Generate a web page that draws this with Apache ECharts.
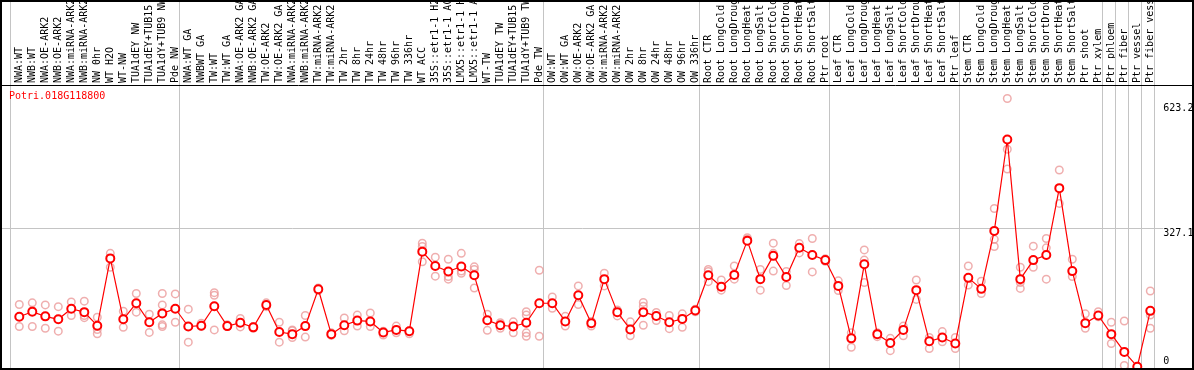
<!DOCTYPE html>
<html>
<head>
<meta charset="utf-8">
<script src="https://cdn.jsdelivr.net/npm/echarts@6/dist/echarts.min.js"></script>
<style>
  html, body { margin: 0; padding: 0; background: #fff; }
  #chart { width: 1194px; height: 370px; }
</style>
</head>
<body>
<div id="chart"></div>
<script>
// sample names, in plot order
const samples = [
  "NWA:WT", "NWB:WT", "NWA:OE-ARK2", "NWB:OE-ARK2", "NWA:miRNA-ARK2", "NWB:miRNA-ARK2",
  "NW 0hr", "WT H2O", "WT-NW", "TUA1dEY NW", "TUA1dEY+TUB15 NW", "TUA1dY+TUB9 NW", "Pde NW",
  "NWA:WT GA", "NWBWT GA", "TW:WT", "TW:WT GA", "NWA:OE-ARK2 GA", "NWB:OE-ARK2 GA",
  "TW:OE-ARK2", "TW:OE-ARK2 GA", "NWA:miRNA-ARK2", "NWB:miRNA-ARK2", "TW:miRNA-ARK2",
  "TW:miRNA-ARK2", "TW 2hr", "TW 8hr", "TW 24hr", "TW 48hr", "TW 96hr", "TW 336hr", "WT ACC",
  "35S::etr1-1 H2O", "35S::etr1-1 ACC", "LMX5::etr1-1 H2O", "LMX5::etr1-1 ACC", "WT-TW",
  "TUA1dEY TW", "TUA1dEY+TUB15 TW", "TUA1dY+TUB9 TW", "Pde TW",
  "OW:WT", "OW:WT GA", "OW:OE-ARK2", "OW:OE-ARK2 GA", "OW:miRNA-ARK2", "OW:miRNA-ARK2",
  "OW 2hr", "OW 8hr", "OW 24hr", "OW 48hr", "OW 96hr", "OW 336hr",
  "Root CTR", "Root LongCold", "Root LongDrought", "Root LongHeat", "Root LongSalt",
  "Root ShortCold", "Root ShortDrought", "Root ShortHeat", "Root ShortSalt", "Ptr root",
  "Leaf CTR", "Leaf LongCold", "Leaf LongDrought", "Leaf LongHeat", "Leaf LongSalt",
  "Leaf ShortCold", "Leaf ShortDrought", "Leaf ShortHeat", "Leaf ShortSalt", "Ptr leaf",
  "Stem CTR", "Stem LongCold", "Stem LongDrought", "Stem LongHeat", "Stem LongSalt",
  "Stem ShortCold", "Stem ShortDrought", "Stem ShortHeat", "Stem ShortSalt", "Ptr shoot",
  "Ptr xylem", "Ptr phloem", "Ptr fiber", "Ptr vessel", "Ptr fiber vessel"
];

// how many samples sit in each experiment block
const groupSizes = [13, 28, 12, 10, 10, 11, 1, 1, 1, 1];

// mean expression per sample
const means = [
  118, 130, 119, 112, 137, 129, 97, 256, 112, 150, 105, 126, 137,
  95, 97, 143, 96, 104, 93, 146, 82, 77, 96, 183, 77, 98, 109, 107, 81, 87, 84,
  272, 238, 225, 237, 216, 110, 98, 95, 104, 150,
  150, 107, 169, 103, 207, 129, 88, 129, 120, 105, 113, 133,
  216, 189, 217, 298, 207, 262, 212, 281, 264, 252,
  191, 67, 242, 77, 56, 87, 181, 60, 69, 55,
  210, 184, 321, 537, 207, 252, 264, 422, 226, 103, 121,
  77, 35, 0, 132
];

// single replicate values per sample
const replicates = [
  [147, 95], [151, 95, 133], [146, 91], [142, 84], [153, 121], [155, 116, 121],
  [117, 88, 78], [268, 235], [131, 93], [173, 129], [124, 81], [173, 146, 99, 95], [172, 105],
  [136, 58], [103, 95], [175, 169, 87], [99, 95], [114, 94], [95, 91], [151, 142], [105, 58],
  [87, 69, 85], [121, 70], [186, 180], [80, 74], [115, 85], [122, 96], [127, 95], [84, 75],
  [96, 80], [85, 78], [292, 284, 248], [259, 214], [254, 213, 207], [268, 226, 221],
  [236, 230, 186], [124, 86], [104, 91], [106, 80], [130, 122, 80, 72], [228, 72],
  [165, 138], [119, 96], [191, 147], [107, 96], [221, 191], [134, 120], [106, 73],
  [152, 143, 98], [128, 109], [121, 90], [125, 93], [136, 130],
  [230, 225, 201], [205, 181], [238, 207], [305, 301], [230, 181], [292, 268, 226],
  [225, 192], [291, 269], [303, 224], [255, 249],
  [203, 180], [80, 46], [276, 252, 199], [80, 71], [67, 38], [96, 73], [205, 159],
  [69, 43], [83, 59], [69, 43],
  [238, 193], [202, 173], [374, 301, 284], [634, 514, 467], [235, 199, 185], [285, 235],
  [303, 281, 207], [465, 386], [254, 213], [125, 91], [130, 118],
  [105, 55], [108, 3], [0, 1], [179, 122, 91]
];

const yTicks = [0, 327.1, 623.2];
const geneId = "Potri.018G118800";

const FONT = "'DejaVu Sans Mono', monospace";
const sepShift = 0.662; // block separators sit left of the first sample

const bounds = [0];
groupSizes.forEach((n) => bounds.push(bounds[bounds.length - 1] + n));

const repPoints = [];
replicates.forEach((vals, i) => vals.forEach((v) => repPoints.push([i, v])));

const chart = echarts.init(document.getElementById("chart"));

const yBase = {
  type: "value",
  position: "right",
  min: -5.4,
  max: 866.7,
  axisLine: { show: false },
  axisTick: { show: false },
  splitLine: { show: false },
};

const option = {
  animation: false,
  title: {
    text: geneId,
    left: 9,
    top: 91,
    padding: 0,
    textStyle: { color: "#ff0000", fontSize: 10, fontWeight: "normal", fontFamily: FONT },
  },
  grid: { left: 2, right: 30.7, top: 0, bottom: 1, containLabel: false, outerBoundsMode: "none" },
  xAxis: {
    type: "value",
    position: "top",
    offset: -85,
    min: -1.33,
    max: 88,
    axisLine: { show: false },
    axisTick: { show: false },
    splitLine: { show: false },
    axisLabel: {
      customValues: samples.map((_, i) => i),
      formatter: (v) => samples[v] || "",
      rotate: 90,
      margin: 2,
      fontSize: 10,
      color: "#000",
      fontFamily: FONT,
    },
  },
  yAxis: [
    Object.assign({}, yBase, {
      axisLabel: {
        customValues: yTicks.slice(1),
        verticalAlign: "top",
        margin: 0,
        fontSize: 10,
        color: "#000",
        fontFamily: FONT,
      },
    }),
    Object.assign({}, yBase, {
      axisLabel: {
        customValues: yTicks.slice(0, 1),
        verticalAlign: "bottom",
        margin: 0,
        fontSize: 10,
        color: "#000",
        fontFamily: FONT,
      },
    }),
  ],
  series: [
    {
      type: "scatter",
      data: repPoints,
      symbol: "circle",
      symbolSize: 7.5,
      silent: true,
      z: 2,
      itemStyle: { color: "rgba(0,0,0,0)", borderColor: "#eb9a9a", borderWidth: 1.5 },
      markLine: {
        silent: true,
        z: 1,
        symbol: ["none", "none"],
        label: { show: false },
        lineStyle: { color: "#c4c4c4", type: "solid", width: 1 },
        data: bounds
          .map((b) => ({ xAxis: b - sepShift }))
          .concat([{ yAxis: yTicks[1] }]),
      },
    },
    {
      type: "line",
      data: means.map((v, i) => [i, v]),
      symbol: "emptyCircle",
      symbolSize: 8,
      z: 3,
      lineStyle: { color: "#ff0000", width: 1.2 },
      itemStyle: { color: "#ff0000", borderWidth: 1.6 },
    },
  ],
  graphic: [
    {
      type: "rect",
      silent: true,
      z: 100,
      shape: { x: 1, y: 1, width: 1192, height: 368 },
      style: { fill: "none", stroke: "#000", lineWidth: 2 },
    },
    {
      type: "line",
      silent: true,
      z: 100,
      shape: { x1: 0, y1: 85.5, x2: 1194, y2: 85.5 },
      style: { stroke: "#000", lineWidth: 1 },
    },
  ],
};

chart.setOption(option);
</script>
</body>
</html>
